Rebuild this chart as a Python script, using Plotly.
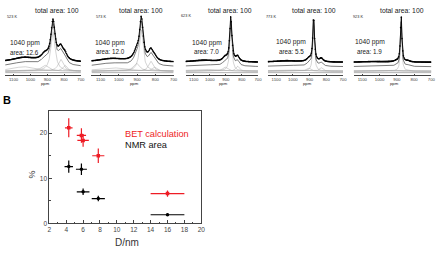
import numpy as np
import plotly.graph_objects as go

W, H = 442, 253

# ---------------- data ----------------
temperatures = ["523 K", "573 K", "623 K", "773 K", "923 K"]
area_1040 = [12.6, 12.0, 7.0, 5.5, 1.9]

# deconvolution peaks (ppm position, FWHM in ppm, height)
ppm_523 = [1040, 915, 866, 820, 795]
fwhm_523 = [160, 50, 30, 35, 30]
height_523 = [4.5, 6, 40, 12, 6]

ppm_573 = [1040, 903, 877, 825, 805]
fwhm_573 = [170, 40, 24, 28, 30]
height_573 = [3.5, 8, 42, 10, 4]

ppm_623 = [1040, 905, 869, 827]
fwhm_623 = [170, 35, 16, 25]
height_623 = [2, 4, 45, 5]

ppm_773 = [1040, 905, 876, 830]
fwhm_773 = [170, 30, 12, 25]
height_773 = [1.5, 3, 46, 3.5]

ppm_923 = [1040, 905, 875, 835]
fwhm_923 = [170, 30, 10, 25]
height_923 = [0.6, 1, 47, 1.2]

panels = [
    (ppm_523, fwhm_523, height_523),
    (ppm_573, fwhm_573, height_573),
    (ppm_623, fwhm_623, height_623),
    (ppm_773, fwhm_773, height_773),
    (ppm_923, fwhm_923, height_923),
]

ppm_ticks = [1100, 1000, 900, 800, 700]

# panel B
D_bet = [4.3, 5.8, 6.0, 7.8, 16.0]
bet = [21.2, 19.5, 18.4, 15.0, 6.6]
bet_xerr = [0.45, 0.55, 0.68, 0.72, 2.0]
bet_yerr = [2.1, 1.6, 1.4, 1.6, 0.7]

D_nmr = [4.3, 5.8, 6.0, 7.8, 16.0]
nmr = area_1040
nmr_xerr = [0.5, 0.65, 0.75, 0.78, 2.0]
nmr_yerr = [1.35, 1.25, 0.7, 0.6, 0.3]

# ---------------- layout helpers ----------------
def px(x):
    return x / W

def py(y):
    return 1 - y / H

FONT = "Liberation Sans, Arial, sans-serif"

panel_x = [(3.2, 80.0), (90.7, 174.0), (186.2, 259.5), (269.5, 345.7), (356.5, 435.3)]
top_y = (5, 76)

fig = go.Figure()
grid = np.arange(1150, 699, -2.0)

def lorentz(c, w, h):
    return h / (1 + ((grid - c) / (w / 2.0)) ** 2)

for i, (pp, ww, hh) in enumerate(panels):
    n = "" if i == 0 else str(i + 1)
    xa, ya = "x" + n, "y" + n
    comps = [lorentz(c, w, h) for c, w, h in zip(pp, ww, hh)]
    total = np.sum(comps, axis=0)
    for comp in comps:
        fig.add_trace(go.Scatter(x=grid, y=comp, mode="lines",
                                 line=dict(color="#a8a8a8", width=0.5),
                                 xaxis=xa, yaxis=ya, showlegend=False, hoverinfo="skip"))
    fig.add_trace(go.Scatter(x=grid, y=total * 0 - 1.5, mode="lines",
                             line=dict(color="#666", width=0.5),
                             xaxis=xa, yaxis=ya, showlegend=False, hoverinfo="skip"))
    fig.add_trace(go.Scatter(x=grid, y=total + 4.5, mode="lines",
                             line=dict(color="#222", width=0.6),
                             xaxis=xa, yaxis=ya, showlegend=False, hoverinfo="skip"))
    fig.add_trace(go.Scatter(x=grid[::2], y=(total + 9)[::2], mode="lines+markers",
                             line=dict(color="#000", width=0.9),
                             marker=dict(size=1.6, color="#000"),
                             xaxis=xa, yaxis=ya, showlegend=False, hoverinfo="skip"))
    x0, x1 = panel_x[i]
    fig.layout["xaxis" + n] = dict(
        domain=[px(x0), px(x1)], anchor=ya, range=[1150, 700],
        showline=True, linecolor="#444", linewidth=0.7, showgrid=False, zeroline=False,
        ticks="inside", ticklen=1.5, tickwidth=0.5, tickcolor="#444",
        tickvals=ppm_ticks, ticktext=[str(t) for t in ppm_ticks],
        tickfont=dict(size=4.3, color="#444", family=FONT))
    fig.layout["yaxis" + n] = dict(
        domain=[py(top_y[1]), py(top_y[0])], anchor=xa, range=[-4, 67],
        visible=False, showgrid=False, zeroline=False)

fig.add_trace(go.Scatter(
    x=D_bet, y=bet, mode="markers",
    marker=dict(symbol="square", size=3.5, color="#ee1c25"),
    error_x=dict(type="data", array=bet_xerr, color="#ee1c25", thickness=1.2, width=0),
    error_y=dict(type="data", array=bet_yerr, color="#ee1c25", thickness=1.2, width=0),
    xaxis="x6", yaxis="y6", showlegend=False))
fig.add_trace(go.Scatter(
    x=D_nmr, y=nmr, mode="markers",
    marker=dict(symbol="circle", size=3.5, color="#000"),
    error_x=dict(type="data", array=nmr_xerr, color="#000", thickness=1.2, width=0),
    error_y=dict(type="data", array=nmr_yerr, color="#000", thickness=1.2, width=0),
    xaxis="x6", yaxis="y6", showlegend=False))

fig.layout["xaxis6"] = dict(
    domain=[px(48), px(202)], anchor="y6", range=[2, 20],
    showline=True, mirror=True, linecolor="#444", linewidth=1, showgrid=False, zeroline=False,
    ticks="inside", ticklen=3, tickwidth=0.8, tickcolor="#444",
    tickvals=list(range(2, 21, 2)),
    minor=dict(tickvals=list(range(3, 20, 2)), ticks="inside", ticklen=1.5, tickcolor="#444"),
    tickfont=dict(size=6.5, color="#444", family=FONT))
fig.layout["yaxis6"] = dict(
    domain=[py(226), py(112)], anchor="x6", range=[0, 25],
    showline=True, mirror=True, linecolor="#444", linewidth=1, showgrid=False, zeroline=False,
    ticks="inside", ticklen=3, tickwidth=0.8, tickcolor="#444",
    tickvals=[0, 10, 20],
    minor=dict(tickvals=[5, 15], ticks="inside", ticklen=1.5, tickcolor="#444"),
    tickfont=dict(size=6.5, color="#444", family=FONT))

ann = []
def text(x, y, s, size, color="#222", **kw):
    ann.append(dict(x=px(x), y=py(y), xref="paper", yref="paper", text=s, showarrow=False,
                    xanchor="center", yanchor="middle",
                    font=dict(size=size, color=color, family=FONT), **kw))

k_pos = [(10.5, 17.5), (100, 17.3), (186.3, 16.5), (273.2, 17.3), (361.2, 17.3)]
tot_pos = [(55.8, 10.5), (140.8, 10.5), (230.7, 10.5), (316.8, 10.5), (405.8, 10.5)]
ppm_pos = [(23.3, 43.3), (109, 43.3), (207.7, 43.3), (292.8, 42.7), (373.3, 42.7)]
area_pos = [(23.3, 53.0), (110, 52.5), (207, 52.5), (293, 52.5), (372.5, 52.5)]
for i in range(5):
    text(*k_pos[i], temperatures[i], 3.8)
    text(*tot_pos[i], "total area: 100", 6.8)
    text(*ppm_pos[i], "1040 ppm", 6.7)
    text(*area_pos[i], "area: %.1f" % area_1040[i], 6.3)
    cx = (panel_x[i][0] + panel_x[i][1]) / 2
    text(cx + 2, 84.5, "ppm", 4.2)

text(5.5, 101, "<b>B</b>", 11, "#000")
text(30, 177, "%", 9, "#333", textangle=-90)
text(127, 245, "D/nm", 10, "#333")
ann.append(dict(x=px(123), y=py(136), xref="paper", yref="paper", text="BET calculation",
                showarrow=False, xanchor="left", yanchor="middle",
                font=dict(size=9.2, color="#ee1c25", family=FONT)))
ann.append(dict(x=px(123), y=py(147), xref="paper", yref="paper", text="NMR area",
                showarrow=False, xanchor="left", yanchor="middle",
                font=dict(size=9.2, color="#111", family=FONT)))

fig.update_layout(width=W, height=H, margin=dict(l=0, r=0, t=0, b=0),
                  paper_bgcolor="white", plot_bgcolor="white",
                  annotations=ann, showlegend=False)

fig.write_html("out.html", config={"displayModeBar": False})
